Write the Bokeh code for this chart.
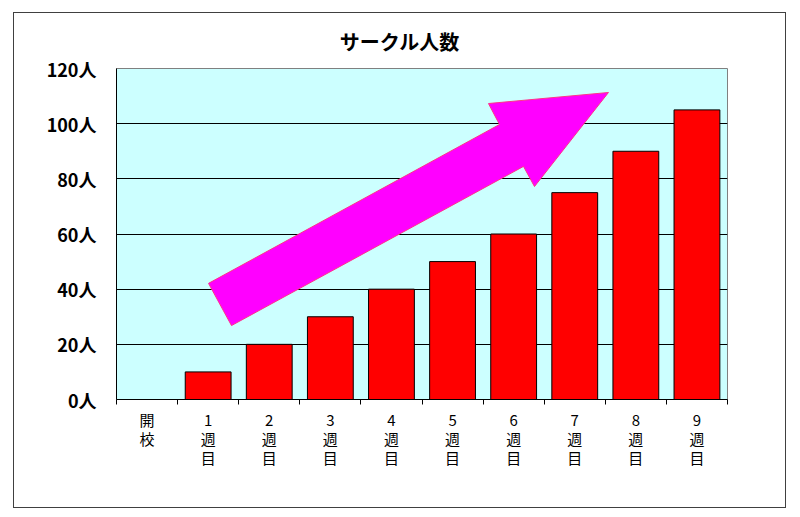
from bokeh.plotting import figure
from bokeh.models import Range1d, FixedTicker, ColumnDataSource, Div
from bokeh.layouts import column
from bokeh.embed import file_html
from bokeh.resources import INLINE

# ---- data ----
categories = ["開\n校", "1\n週\n目", "2\n週\n目", "3\n週\n目", "4\n週\n目",
              "5\n週\n目", "6\n週\n目", "7\n週\n目", "8\n週\n目", "9\n週\n目"]
members = [0, 10, 20, 30, 40, 50, 60, 75, 90, 105]
y_ticks = [0, 20, 40, 60, 80, 100, 120]
y_tick_labels = ["0人", "20人", "40人", "60人", "80人", "100人", "120人"]
title_text = "サークル人数"

# decorative arrow outline (in data units: category index, people)
arrow_x = [1.506, 6.268, 6.088, 8.052, 6.841, 6.661, 1.882]
arrow_y = [42.1, 99.7, 107.3, 111.3, 77.2, 84.5, 26.8]

centers = [i + 0.5 for i in range(len(categories))]
src = ColumnDataSource(dict(x=centers, top=members))

FONT_JP = "Noto Sans CJK JP"

p = figure(frame_width=611, frame_height=331,
           min_border_left=102, min_border_right=58,
           min_border_top=15, min_border_bottom=108,
           x_range=Range1d(0, len(categories)), y_range=Range1d(0, 120),
           output_backend="svg", toolbar_location=None,
           background_fill_color="#CCFFFF", border_fill_color="white")

p.outline_line_color = "#808080"
p.outline_line_width = 1

# bars
p.vbar(x="x", top="top", width=0.75, source=src,
       fill_color="#FF0000", line_color="black", line_width=1)

# arrow decoration
p.patch(arrow_x, arrow_y, fill_color="#FF00FF", line_color="#FF3388", line_width=1)

# grid
p.xgrid.visible = False
p.ygrid.ticker = FixedTicker(ticks=y_ticks[1:-1])
p.ygrid.grid_line_color = "black"
p.ygrid.grid_line_width = 1
p.ygrid.level = "underlay"

# y axis
ya = p.yaxis[0]
ya.ticker = FixedTicker(ticks=y_ticks)
ya.major_label_overrides = {t: l for t, l in zip(y_ticks, y_tick_labels)}
ya.major_tick_out = 0
ya.major_tick_in = 0
ya.minor_tick_out = 0
ya.minor_tick_in = 0
ya.major_label_standoff = 20
ya.major_label_text_font = FONT_JP
ya.major_label_text_font_size = "18px"
ya.major_label_text_font_style = "bold"
ya.major_label_text_color = "black"
ya.axis_line_color = "black"

# x axis
xa = p.xaxis[0]
xa.ticker = FixedTicker(ticks=centers, minor_ticks=list(range(len(categories) + 1)))
xa.major_label_overrides = {c: l for c, l in zip(centers, categories)}
xa.major_tick_out = 0
xa.major_tick_in = 0
xa.minor_tick_out = 5
xa.minor_tick_in = 0
xa.minor_tick_line_color = "black"
xa.major_label_standoff = 4
xa.major_label_text_font = FONT_JP
xa.major_label_text_font_size = "15px"
xa.major_label_text_color = "black"
xa.major_label_text_line_height = 0.92
xa.axis_line_color = "black"

title_div = Div(
    text=f"<div style=\"display:block;width:771px;text-align:center;font-family:'{FONT_JP}';"
         f"font-size:20px;font-weight:bold;color:black;line-height:28px;padding-top:15px;\">"
         f"{title_text}</div>",
    width=771, height=40, margin=0,
    styles={"background-color": "white"})
p.margin = 0

layout = column(title_div, p, spacing=0)
layout.styles = {"margin-left": "13px", "margin-top": "12px",
                 "border": "1px solid #404040", "background-color": "white"}

open("out.html", "w").write(file_html(layout, INLINE))
